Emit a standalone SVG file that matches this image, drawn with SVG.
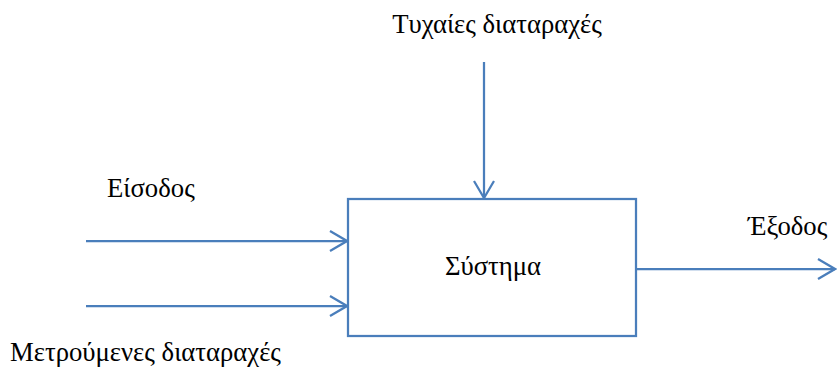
<svg xmlns="http://www.w3.org/2000/svg" width="837" height="367" viewBox="0 0 837 367">
<style>
text{font-family:"Liberation Serif","Times New Roman",serif;font-size:26.7px;fill:#000}
.ln{stroke:#4A7EBB;stroke-width:2.25;fill:none}
.node{stroke:#4A7EBB;stroke-width:2.25;fill:#fff}
</style>
<defs>
<marker id="ah" markerWidth="20" markerHeight="22" refX="18" refY="11" orient="auto" markerUnits="userSpaceOnUse">
<path d="M1,1 L18,11 L1,21" fill="none" stroke="#4A7EBB" stroke-width="2.25"/>
</marker>
</defs>
<g id="connectors">
<line class="ln" x1="484" y1="62" x2="484" y2="198" marker-end="url(#ah)"/>
<line class="ln" x1="86" y1="241" x2="347" y2="241" marker-end="url(#ah)"/>
<line class="ln" x1="86" y1="306" x2="347" y2="306" marker-end="url(#ah)"/>
<line class="ln" x1="636" y1="269" x2="835" y2="269" marker-end="url(#ah)"/>
</g>
<g id="system">
<rect class="node" x="348" y="199" width="288" height="137"/>
<text x="493" y="275" text-anchor="middle">Σύστημα</text>
</g>
<g id="random-disturbances">
<text x="497" y="33" text-anchor="middle">Τυχαίες διαταραχές</text>
</g>
<g id="input">
<text x="107" y="197">Είσοδος</text>
</g>
<g id="measured-disturbances">
<text x="10" y="361">Μετρούμενες διαταραχές</text>
</g>
<g id="output">
<text x="748" y="235">Έξοδος</text>
</g>
</svg>
